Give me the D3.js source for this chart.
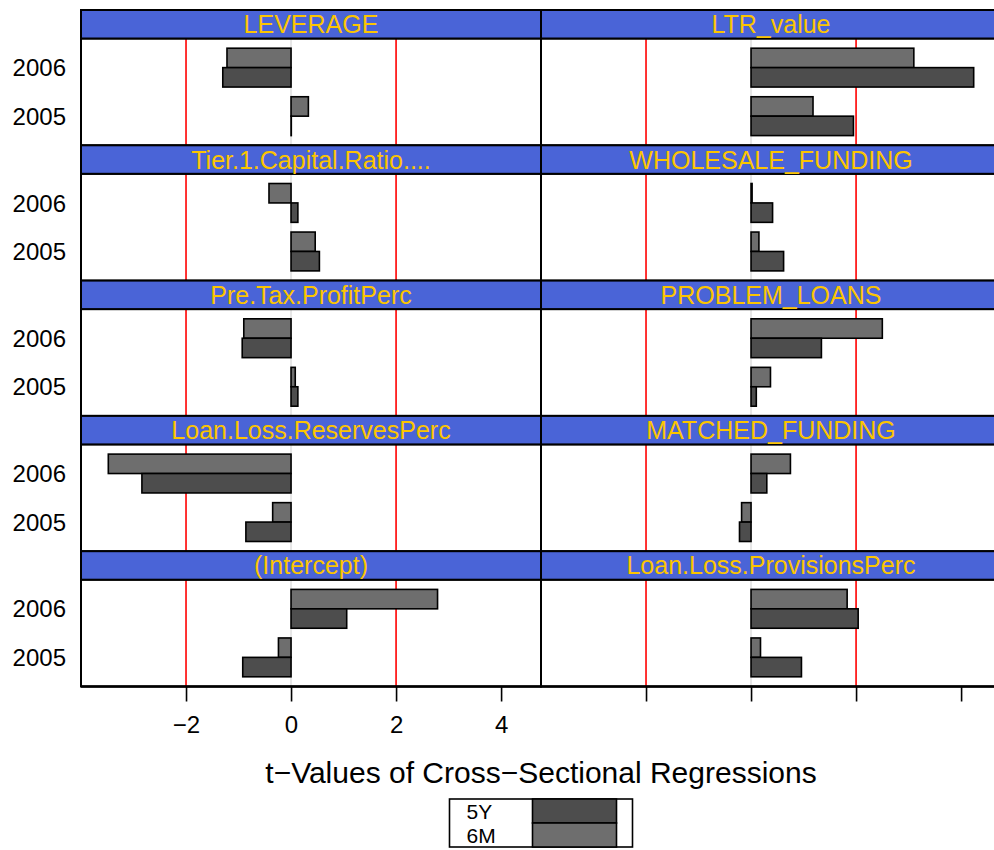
<!DOCTYPE html>
<html>
<head>
<meta charset="utf-8">
<script src="https://cdn.jsdelivr.net/npm/d3@7"></script>
<style>
  body { margin: 0; background: #fff; }
  svg { display: block; font-family: "Liberation Sans", Arial, sans-serif; }
</style>
</head>
<body>
<svg id="chart" width="994" height="850"></svg>
<script>
// Panel names, in reading order (left column first, then right)
const variables = [
  "LEVERAGE", "LTR_value",
  "Tier.1.Capital.Ratio....", "WHOLESALE_FUNDING",
  "Pre.Tax.ProfitPerc", "PROBLEM_LOANS",
  "Loan.Loss.ReservesPerc", "MATCHED_FUNDING",
  "(Intercept)", "Loan.Loss.ProvisionsPerc"
];
const years = ["2006", "2005"];
const seriesNames = ["6M", "5Y"];
const legendOrder = ["5Y", "6M"];

// t-values, one entry per variable
const t6M_2006 = [-1.22, 3.10, -0.42, 0.02, -0.90, 2.50, -3.48, 0.75, 2.79, 1.83];
const t5Y_2006 = [-1.30, 4.24, 0.13, 0.41, -0.93, 1.34, -2.84, 0.30, 1.06, 2.04];
const t6M_2005 = [0.33, 1.18, 0.46, 0.15, 0.08, 0.37, -0.35, -0.18, -0.24, 0.18];
const t5Y_2005 = [0.005, 1.95, 0.54, 0.62, 0.13, 0.10, -0.86, -0.22, -0.92, 0.96];

const refLines = [-2, 2];
const tickValues = [-2, 0, 2, 4];

const colors = { "6M": "#6e6e6e", "5Y": "#4d4d4d" };
const stripFill = "#4a64d7";
const stripText = "#fcc500";

// Layout
const svg = d3.select("#chart");
const plotLeft = 81;
const colWidth = 460;
const plotTop = 10;
const rowStep = 135.3;
const stripH = 28.5;
const panelH = rowStep - stripH;
const nRows = 5;
const plotBottom = plotTop + nRows * rowStep;

const x = d3.scaleLinear().domain([-4.0, 4.76]).range([0, colWidth]);
const yYear = d3.scaleBand().domain(years).range([0, panelH]).paddingInner(0.2).paddingOuter(0.2);
const ySeries = d3.scaleBand().domain(seriesNames).range([0, yYear.bandwidth()]);

const panels = variables.map((name, i) => ({
  name: name,
  row: Math.floor(i / 2),
  col: i % 2,
  bars: [
    { year: "2006", series: "6M", t: t6M_2006[i] },
    { year: "2006", series: "5Y", t: t5Y_2006[i] },
    { year: "2005", series: "6M", t: t6M_2005[i] },
    { year: "2005", series: "5Y", t: t5Y_2005[i] }
  ]
}));

panels.forEach((p) => {
  const px = plotLeft + p.col * colWidth;
  const sy = plotTop + p.row * rowStep;
  const g = svg.append("g").attr("transform", `translate(${px},${sy + stripH})`);

  // panel background
  g.append("rect").attr("width", colWidth).attr("height", panelH).attr("fill", "#fff");

  // zero line
  g.append("line")
    .attr("x1", x(0)).attr("x2", x(0))
    .attr("y1", 0).attr("y2", panelH)
    .attr("stroke", "#e6e6e6").attr("stroke-width", 2);

  // red reference lines
  refLines.forEach((v) => {
    g.append("line")
      .attr("x1", x(v)).attr("x2", x(v))
      .attr("y1", 0).attr("y2", panelH)
      .attr("stroke", "#ff0000").attr("stroke-width", 1.6);
  });

  // bars
  g.selectAll("rect.bar")
    .data(p.bars)
    .join("rect")
    .attr("class", "bar")
    .attr("x", (d) => x(Math.min(0, d.t)))
    .attr("width", (d) => Math.abs(x(d.t) - x(0)))
    .attr("y", (d) => yYear(d.year) + ySeries(d.series))
    .attr("height", ySeries.bandwidth())
    .attr("fill", (d) => colors[d.series])
    .attr("stroke", "#000")
    .attr("stroke-width", 1.6);

  // panel border
  g.append("rect").attr("width", colWidth).attr("height", panelH)
    .attr("fill", "none").attr("stroke", "#000").attr("stroke-width", 2);

  // strip
  const s = svg.append("g").attr("transform", `translate(${px},${sy})`);
  s.append("rect").attr("width", colWidth).attr("height", stripH)
    .attr("fill", stripFill).attr("stroke", "#000").attr("stroke-width", 2);
  s.append("text")
    .attr("x", colWidth / 2).attr("y", stripH / 2)
    .attr("dy", "0.36em")
    .attr("text-anchor", "middle")
    .attr("fill", stripText)
    .style("font-size", "25px")
    .text(p.name);

  // year labels on the left column
  if (p.col === 0) {
    svg.append("g")
      .selectAll("text")
      .data(years)
      .join("text")
      .attr("x", 66)
      .attr("y", (d) => sy + stripH + yYear(d) + yYear.bandwidth() / 2)
      .attr("dy", "0.36em")
      .attr("text-anchor", "end")
      .style("font-size", "24px")
      .text((d) => d);
  }
});

// bottom axes: labels on the left column only
[0, 1].forEach((col) => {
  const axis = d3.axisBottom(x).tickValues(tickValues).tickSize(15).tickPadding(14);
  if (col === 1) axis.tickFormat("");
  const ax = svg.append("g")
    .attr("transform", `translate(${plotLeft + col * colWidth},${plotBottom})`)
    .call(axis);
  ax.select(".domain").remove();
  ax.selectAll(".tick line").attr("stroke", "#000").attr("stroke-width", 1.6);
  ax.selectAll(".tick text").attr("fill", "#000").style("font-size", "24px")
    .style("font-family", "'Liberation Sans', Arial, sans-serif");
});

// bottom edge of the panels
svg.append("line")
  .attr("x1", plotLeft).attr("x2", plotLeft + 2 * colWidth)
  .attr("y1", plotBottom).attr("y2", plotBottom)
  .attr("stroke", "#000").attr("stroke-width", 2.5);

// axis title
svg.append("text")
  .attr("x", plotLeft + colWidth)
  .attr("y", 783)
  .attr("text-anchor", "middle")
  .style("font-size", "30px")
  .text("t\u2212Values of Cross\u2212Sectional Regressions");

// legend
const legend = svg.append("g").attr("transform", "translate(449.5,799)");
legend.append("rect").attr("width", 183).attr("height", 48)
  .attr("fill", "#fff").attr("stroke", "#000").attr("stroke-width", 1.6);
legendOrder.forEach((k, i) => {
  legend.append("rect")
    .attr("x", 83).attr("y", i * 24)
    .attr("width", 84).attr("height", 24)
    .attr("fill", colors[k]).attr("stroke", "#000").attr("stroke-width", 1.6);
  legend.append("text")
    .attr("x", 17).attr("y", i * 24 + 19.5)
    .style("font-size", "21px")
    .text(k);
});
</script>
</body>
</html>
